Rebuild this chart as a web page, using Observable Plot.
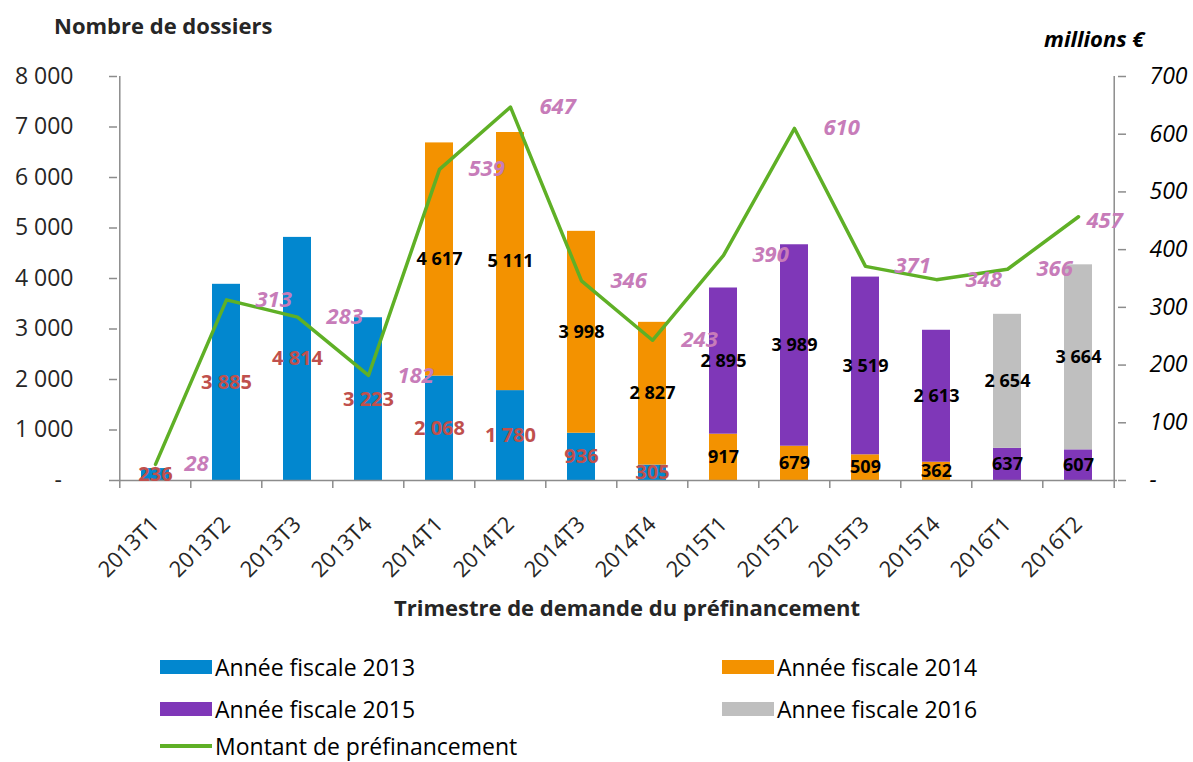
<!DOCTYPE html>
<html><head><meta charset="utf-8">
<script src="https://cdn.jsdelivr.net/npm/d3@7"></script>
<script src="https://cdn.jsdelivr.net/npm/@observablehq/plot@0.6"></script>
<style>
body{margin:0;background:#fff;font-family:"Open Sans",sans-serif;}
#wrap{position:relative;width:1193px;height:762px;overflow:hidden;}
.abs{position:absolute;white-space:nowrap;}
.leg{position:absolute;display:flex;align-items:center;font-size:23px;color:#000;line-height:24px;height:24px;}
.sw{width:52px;height:14px;margin-right:3px;}
#chart g[aria-label="x-axis tick label"]{font-size:22px !important;}
</style></head><body>
<div id="wrap">
 <div class="abs" style="left:54px;top:11px;font-size:22px;font-weight:700;color:#262626;line-height:28px">Nombre de dossiers</div>
 <div class="abs" style="left:1044px;top:24px;font-size:22px;font-weight:700;font-style:italic;color:#000;line-height:28px">millions €</div>
 <div id="chart" class="abs" style="left:0;top:40px"></div>
 <div class="abs" style="left:627px;top:593px;transform:translateX(-50%);font-size:22px;font-weight:700;color:#262626;line-height:28px">Trimestre de demande du préfinancement</div>
 <div id="legend"></div>
</div>
<script>
const quarters = ["2013T1","2013T2","2013T3","2013T4","2014T1","2014T2","2014T3","2014T4","2015T1","2015T2","2015T3","2015T4","2016T1","2016T2"];
const seriesNames = ["Année fiscale 2013","Année fiscale 2014","Année fiscale 2015","Annee fiscale 2016"];
const fy2013 = [236,3885,4814,3223,2068,1780,936,305,null,null,null,null,null,null];
const fy2014 = [null,null,null,null,4617,5111,3998,2827,917,679,509,362,null,null];
const fy2015 = [null,null,null,null,null,null,null,null,2895,3989,3519,2613,637,607];
const fy2016 = [null,null,null,null,null,null,null,null,null,null,null,null,2654,3664];
const montant = [28,313,283,182,539,647,346,243,390,610,371,348,366,457];
const lineName = "Montant de préfinancement";
const leftTicks = [0,1000,2000,3000,4000,5000,6000,7000,8000];
const rightTicks = [0,100,200,300,400,500,600,700];

const colors = ["#0287CF","#F39200","#7F37B8","#BFBFBF"];
const green = "#5FB026";
const pink = "#C77CB9";
const red = "#C0504D";
const axisGray = "#8C8C8C";

const k = 8000 / 700;
const fmt = v => d3.format(",")(v).replace(/,/g, " ");

const seriesValues = [fy2013, fy2014, fy2015, fy2016];
const rows = [];
seriesValues.forEach((arr, si) => {
  arr.forEach((v, i) => {
    if (v != null) rows.push({q: quarters[i], s: si, v});
  });
});
const lineRows = montant.map((v, i) => ({q: quarters[i], v, i}));

const W = 1193, mL = 117, mR = 76;
const bw = (W - mL - mR) / quarters.length;

const chart = Plot.plot({
  width: W, height: 545,
  marginLeft: mL, marginRight: mR, marginTop: 36, marginBottom: 105,
  style: {fontFamily: "Open Sans, sans-serif", background: "transparent", overflow: "visible"},
  x: {domain: quarters, paddingInner: 0.6, paddingOuter: 0.3, axis: null},
  y: {domain: [0, 8000], axis: null},
  color: {type: "identity"},
  marks: [
    Plot.barY(rows, {x: "q", y: "v", z: "s", fill: d => colors[d.s]}),
    Plot.ruleY([0], {stroke: axisGray, strokeWidth: 1.5}),
    Plot.ruleX([quarters[0]], {dx: -bw / 2, stroke: axisGray, strokeWidth: 1.5}),
    Plot.ruleX([quarters[quarters.length - 1]], {dx: bw / 2, stroke: axisGray, strokeWidth: 1.5}),
    Plot.axisX({ticks: quarters, tickSize: 8, tickFormat: () => "", label: null, dx: -bw / 2, stroke: axisGray, strokeWidth: 1.5}),
    Plot.axisX({ticks: [quarters[quarters.length - 1]], tickSize: 8, tickFormat: () => "", label: null, dx: bw / 2, stroke: axisGray, strokeWidth: 1.5}),
    Plot.axisX({ticks: quarters, tickSize: 0, tickPadding: 40, tickRotate: -45, label: null, fontSize: 22, fill: "#262626"}),
    Plot.axisY({anchor: "left", ticks: leftTicks, tickSize: 8, tickPadding: 36, label: null, stroke: axisGray, strokeWidth: 1.5,
      tickFormat: d => d === 0 ? "-\u2002" : fmt(d), fontSize: 23, fill: "#262626"}),
    Plot.axisY({anchor: "right", ticks: rightTicks.map(v => v * k), tickSize: 8, tickPadding: 24, label: null, stroke: axisGray, strokeWidth: 1.5,
      tickFormat: d => { const v = Math.round(d / k); return v === 0 ? "-" : String(v); }, fontSize: 23, fontStyle: "italic", fill: "#000"}),
    Plot.text(rows, Plot.stackY({x: "q", y: "v", z: "s", text: d => fmt(d.v),
      fill: d => d.s === 0 ? red : "#000", fontSize: d => d.s === 0 ? 20 : 18, fontWeight: 700})),
    Plot.line(lineRows, {x: "q", y: d => d.v * k, stroke: green, strokeWidth: 3.5}),
    Plot.text(lineRows, {filter: d => d.i < montant.length - 1, x: "q", y: d => d.v * k, text: d => String(d.v),
      textAnchor: "start", dx: 29, fill: pink, fontSize: 22, fontWeight: 700, fontStyle: "italic"}),
    Plot.text(lineRows, {filter: d => d.i === montant.length - 1, x: "q", y: d => d.v * k, text: d => String(d.v),
      textAnchor: "start", dx: 8, dy: 4, fill: pink, fontSize: 22, fontWeight: 700, fontStyle: "italic"})
  ]
});
document.getElementById("chart").appendChild(chart);

// legend
const legend = document.getElementById("legend");
const legItems = [
  {name: seriesNames[0], color: colors[0], x: 160, y: 667, line: false},
  {name: seriesNames[1], color: colors[1], x: 722, y: 667, line: false},
  {name: seriesNames[2], color: colors[2], x: 160, y: 709, line: false},
  {name: seriesNames[3], color: colors[3], x: 722, y: 709, line: false},
  {name: lineName, color: green, x: 160, y: 746, line: true}
];
legItems.forEach(it => {
  const d = document.createElement("div");
  d.className = "leg";
  d.style.left = it.x + "px";
  d.style.top = (it.y - 12) + "px";
  const sw = document.createElement("div");
  sw.className = "sw";
  sw.style.background = it.color;
  if (it.line) sw.style.height = "4px";
  d.appendChild(sw);
  const t = document.createElement("span");
  t.textContent = it.name;
  d.appendChild(t);
  legend.appendChild(d);
});
</script>
</body></html>
